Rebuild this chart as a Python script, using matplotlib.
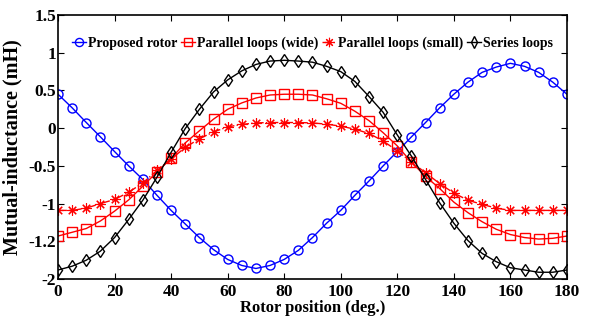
import matplotlib.pyplot as plt

# Rotor position (deg.)
angle = list(range(0, 181, 5))

proposed = [0.45, 0.27, 0.075, -0.115, -0.31, -0.50, -0.68, -0.89, -1.09, -1.27,
            -1.45, -1.61, -1.74, -1.82, -1.86, -1.82, -1.74, -1.62, -1.45, -1.26,
            -1.09, -0.89, -0.70, -0.50, -0.31, -0.115, 0.075, 0.27, 0.45, 0.61,
            0.74, 0.81, 0.86, 0.82, 0.74, 0.61, 0.45]

par_wide = [-1.43, -1.38, -1.33, -1.23, -1.10, -0.95, -0.77, -0.58, -0.40, -0.195,
            -0.035, 0.12, 0.25, 0.335, 0.40, 0.44, 0.45, 0.45, 0.44, 0.39,
            0.33, 0.225, 0.10, -0.06, -0.235, -0.45, -0.64, -0.80, -0.98, -1.12,
            -1.24, -1.34, -1.41, -1.45, -1.47, -1.46, -1.43]

par_small = [-1.09, -1.09, -1.06, -1.00, -0.945, -0.85, -0.725, -0.56, -0.41, -0.255,
             -0.14, -0.05, 0.017, 0.05, 0.07, 0.075, 0.075, 0.075, 0.07, 0.053,
             0.027, -0.013, -0.07, -0.17, -0.30, -0.45, -0.59, -0.735, -0.86, -0.955,
             -1.01, -1.06, -1.09, -1.09, -1.09, -1.09, -1.09]

series = [-1.88, -1.83, -1.75, -1.63, -1.45, -1.21, -0.955, -0.65, -0.32, -0.005,
          0.25, 0.48, 0.64, 0.76, 0.845, 0.89, 0.90, 0.89, 0.875, 0.82,
          0.75, 0.62, 0.42, 0.21, -0.09, -0.37, -0.68, -0.99, -1.26, -1.49,
          -1.66, -1.77, -1.85, -1.88, -1.91, -1.91, -1.88]

yticks = [1.5, 1, 0.5, 0, -0.5, -1, -1.5, -2]
ytick_labels = ["1.5", "1", "0.5", "0", "-0.5", "-1", "-1.2", "-2"]
xticks = list(range(0, 181, 20))

plt.rcParams["font.family"] = ["Liberation Serif", "DejaVu Serif"]
plt.rcParams["font.weight"] = "bold"

fig = plt.figure(figsize=(5.89, 3.2), dpi=100)
ax = fig.add_axes([0.0985, 0.128, 0.864, 0.825])

mk = dict(markersize=6.5, markerfacecolor="none", markeredgewidth=1.0, linewidth=1.0)
ax.plot(angle, proposed, "-o", color="#0000ff", label="Proposed rotor", **mk)
ax.plot(angle, par_wide, "-s", color="#ff0000", label="Parallel loops (wide)", **mk)
ax.plot(angle, par_small, "-.", marker=(8, 2, 0), color="#ff0000",
        label="Parallel loops (small)", markersize=7.5, markeredgewidth=0.8, linewidth=1.0)
ax.plot(angle, series, "-d", color="black", label="Series loops", **mk)

ax.set_xlim(0, 180)
ax.set_ylim(-2, 1.5)
ax.set_xticks(xticks)
ax.set_yticks(yticks)
ax.set_yticklabels(ytick_labels)
ax.tick_params(direction="in", top=True, right=True, labelsize=12.5, length=4)
ax.tick_params(axis="y", pad=1.5)
ax.tick_params(axis="x", pad=3.5)
for lab in ax.get_xticklabels() + ax.get_yticklabels():
    lab.set_fontweight("bold")
for s in ax.spines.values():
    s.set_linewidth(1.2)

ax.set_xlabel("Rotor position (deg.)", fontsize=12, fontweight="bold", labelpad=0)
ax.set_ylabel("Mutual-inductance (mH)", fontsize=14.5, fontweight="bold", labelpad=4)

ax.legend(loc="upper center", bbox_to_anchor=(0.5, 0.965), ncol=4, frameon=False,
          handlelength=1.0, handletextpad=0.15, columnspacing=0.25,
          markerscale=0.9, prop={"size": 10, "weight": "bold"})

fig.savefig("out.png", dpi=100)
